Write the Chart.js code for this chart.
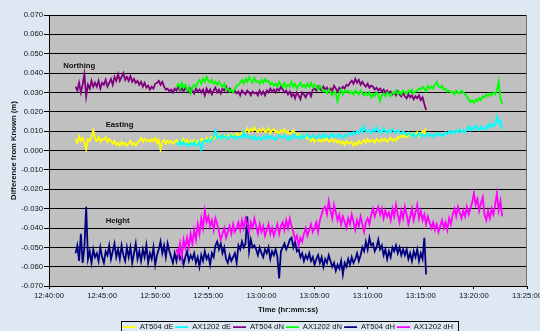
<!DOCTYPE html>
<html>
<head>
<meta charset="utf-8">
<script src="https://cdn.jsdelivr.net/npm/chart.js@4.4.1/dist/chart.umd.min.js"></script>
<style>
  html, body { margin: 0; padding: 0; overflow: hidden; background: #dee8f3; }
  canvas { display: block; }
</style>
</head>
<body>
<canvas id="c" width="540" height="341"></canvas>
<script>
// Time axis labels (every 5 minutes)
const timeTicks = ['12:40:00', '12:45:00', '12:50:00', '12:55:00', '13:00:00',
                   '13:05:00', '13:10:00', '13:15:00', '13:20:00', '13:25:00'];
const yTickValues = [-0.07, -0.06, -0.05, -0.04, -0.03, -0.02, -0.01, 0,
                     0.01, 0.02, 0.03, 0.04, 0.05, 0.06, 0.07];

// Logging schedule of the two receivers
const SAMPLE_SECONDS = 10;
const at504Start = '12:42:30';
const ax1202Start = '12:52:00';

const seriesNames = ['AT504 dE', 'AX1202 dE', 'AT504 dN', 'AX1202 dN', 'AT504 dH', 'AX1202 dH'];
const seriesColors = ['#ffff00', '#00ffff', '#800080', '#00ff00', '#000080', '#ff00ff'];

// Differences from the known coordinates, in millimetres (one row = one minute)
const at504_dE = [
  6, 4, 7.5, 5, 6.5, 4.5,   0.5, 6, 5, 7, 10.5, 6,    5, 7, 4.5, 6, 5.5, 7,
  4.5, 6, 5, 3.5, 5, 3,     4, 2.5, 4.5, 3, 4, 2.5,   3.5, 5, 3, 4, 2.5, 4,
  5, 6.5, 4.5, 6, 5, 5.5,   4.5, 6, 5, 6.5, 4, 5.5,   0.5, 4.5, 5.5, 3.5, 5, 4,
  5, 3.5, 4.5, 5.5, 3.5, 5, 4.5, 6, 4, 5.5, 3.5, 5,   4, 5.5, 3.5, 5, 4.5, 6,
  5.5, 4.5, 6.5, 5, 6, 7,   6, 7.5, 6.5, 8, 6, 7,     7.5, 6.5, 8, 7, 8.5, 7.5,
  8, 9, 7.5, 8.5, 9.5, 8.5, 10, 11.5, 9.5, 11, 10, 12, 10.5, 9.5, 11, 10, 11.5, 9.5,
  10, 11.5, 9, 10.5, 11, 9.5, 10, 9, 10.5, 9.5, 11, 9, 10, 8.5, 9.5, 10.5, 9, 8,
  8.5, 7, 8, 6.5, 7.5, 6,   6.5, 5, 6, 4.5, 6.5, 5,   5.5, 4.5, 6, 5, 6.5, 4.5,
  5, 6, 4.5, 5.5, 4, 5,     3.5, 4.5, 3, 5, 3.5, 4,   4.5, 2.5, 4, 3, 5, 3.5,
  4.5, 5.5, 4, 6, 4.5, 5,   5.5, 4, 6, 5, 4.5, 6,     5, 6, 4.5, 5.5, 6.5, 5,
  6, 5, 7, 6.5, 8, 7,       8, 7, 9, 7.5, 8.5, 9,     8, 9.5, 7.5, 8.5, 10, 9,
  11.5
];
const ax1202_dE = [
  4, 3, 5, 2.5, 4.5, 3,     3.5, 2, 4, 3, 4.5, 2.5,   3, 4.5, 0.5, 4, 5.5, 4.5,
  5.5, 4.5, 6, 7, 10.5, 6.5, 7.5, 6, 8, 6.5, 7.5, 6,  7, 8, 6.5, 7.5, 6, 7,
  7.5, 6.5, 9.5, 7, 8, 6.5, 7, 6, 7.5, 5.5, 7, 6.5,   5.5, 7, 6, 8, 6.5, 7.5,
  6, 7, 5.5, 6.5, 8, 7,     6.5, 8, 7, 5.5, 7.5, 6,   7, 8.5, 6.5, 7.5, 6, 8,
  6.5, 7.5, 8.5, 6.5, 7, 8, 7, 6, 8, 7.5, 6.5, 8.5,   7, 8, 6.5, 7.5, 8.5, 7,
  8, 7, 8.5, 7.5, 6.5, 8,   7.5, 8.5, 9, 8, 9.5, 8.5, 10, 9, 11, 9.5, 12.5, 10,
  9.5, 10.5, 9, 11, 10, 12, 9.5, 10.5, 9, 11.5, 10, 9, 10.5, 9.5, 11, 10, 9, 10.5,
  9.5, 8.5, 10, 9, 8, 9,    8.5, 7.5, 9, 7, 8, 9,     7.5, 8.5, 7, 8, 9, 7.5,
  8, 7, 8.5, 7.5, 9, 8,     8.5, 7.5, 9.5, 8.5, 10, 9, 10, 9, 10.5, 9.5, 11, 9.5,
  10.5, 9.5, 11, 12.5, 10.5, 12, 11, 13, 11.5, 10.5, 12.5, 11, 12, 11, 13.5, 12, 14, 12.5,
  13, 17.5, 14, 15.5, 11
];
const at504_dN = [
  33, 31, 35, 30, 34, 39.5,  28, 34, 32, 36, 33, 35,   33, 36, 32, 35, 34, 36.5,
  33, 35, 37, 34, 38, 36,    39.5, 36, 38, 40, 36.5, 38, 36, 38.5, 35.5, 37, 35, 36,
  34, 35.5, 33, 35, 32.5, 33.5, 31.5, 33, 32, 34.5, 35, 36, 34, 35.5, 33, 31.5, 32, 30.5,
  31.5, 30, 32, 31, 33, 31,  32, 30.5, 32.5, 31, 30, 32, 31, 29.5, 32, 30.5, 31.5, 30,
  31.5, 28.5, 32, 30, 31.5, 29, 31, 32.5, 30, 31.5, 29.5, 32, 31, 33, 30.5, 32, 31, 30,
  31, 29.5, 30.5, 28.5, 31, 30, 29, 31, 30, 28.5, 30.5, 29.5, 30, 28.5, 31, 29, 30.5, 28.5,
  31, 30, 32, 30.5, 31.5, 30, 32, 31, 33, 31.5, 30, 31, 29, 30.5, 28, 29.5, 27, 30,
  28.5, 26.5, 30, 29, 27.5, 29.5, 30, 28, 31.5, 32, 31, 33, 32, 31, 33, 31.5, 32.5, 30.5,
  32, 31, 33.5, 32, 30.5, 32.5, 31.5, 33, 32, 34, 33.5, 35, 36, 34.5, 37, 35, 36.5, 34,
  35.5, 34, 33, 34.5, 32.5, 33.5, 33, 31.5, 32.5, 31, 32, 30.5, 31.5, 30, 31, 29.5, 30.5, 29,
  30, 28.5, 30.5, 29, 28, 30, 28, 27, 29, 27.5, 28.5, 26.5, 28, 27, 28.5, 26, 27.5, 24,
  21
];
const ax1202_dN = [
  33, 34.5, 32, 35, 32.5, 34, 31, 33, 29.5, 32.5, 34, 33, 35, 36.5, 34.5, 37, 35.5, 38,
  36, 35, 36.5, 34.5, 35.5, 34, 35.5, 34, 33, 34.5, 31.5, 32, 30.5, 31.5, 30, 32, 33.5, 34,
  35, 36.5, 34.5, 37, 35.5, 38, 36, 35, 37.5, 35.5, 36, 34.5, 36.5, 35, 37, 35.5, 36, 34,
  35, 33.5, 34.5, 33, 35.5, 34, 33, 35, 32.5, 34, 33, 35.5, 33, 34.5, 32, 33.5, 35, 33,
  34, 32.5, 34.5, 33, 35, 32.5, 34, 33, 31.5, 33.5, 32, 30.5, 31, 29.5, 31.5, 30, 28.5, 30.5,
  29.5, 25.5, 30, 31.5, 29, 31, 30, 31, 29.5, 30.5, 29, 31, 30, 29, 31, 29.5, 28.5, 30,
  28.5, 30, 27.5, 29, 28, 30, 29, 25.5, 28.5, 29.5, 28, 30, 29, 28, 30, 29.5, 31, 29,
  30.5, 29, 31, 30, 29.5, 31, 30, 31.5, 29.5, 30.5, 31, 32, 31.5, 33, 32, 30.5, 33.5, 32,
  33, 32, 34, 35.5, 33, 32.5, 33.5, 31.5, 32, 30.5, 31, 30, 30.5, 29, 31, 30, 29.5, 31,
  30, 29, 28, 26.5, 25, 26, 24.5, 26.5, 25.5, 27, 26, 28, 27.5, 29, 28, 29.5, 28.5, 30,
  29, 31, 35.5, 27, 24
];
const at504_dH = [
  -53, -49, -57, -43, -58, -50,  -29, -56, -52, -58, -51, -55,  -53, -57, -50, -55, -58, -52,
  -54, -49, -56, -52, -48, -55,  -51, -56, -49, -54, -57, -50,  -55, -50, -58, -53, -48, -56,
  -52, -57, -51, -55, -49, -58,  -53, -56, -50, -59, -54, -51,  -47, -53, -49, -55, -48, -52,
  -55, -58, -53, -57, -52, -56,  -54, -59, -55, -52, -57, -54,  -56, -53, -58, -55, -60, -54,
  -57, -52, -56, -54, -59, -53,  -55, -49, -47, -51, -48, -53,  -50, -56, -58, -54, -57, -55,
  -53, -58, -49, -51, -47, -50,  -48, -34, -52, -46, -50, -49,  -51, -54, -50, -53, -55, -51,
  -53, -50, -56, -52, -54, -51,  -55, -66, -52, -50, -48, -51,  -49, -46, -45, -50, -47, -52,
  -51, -55, -53, -57, -54, -56,  -53, -57, -55, -59, -56, -54,  -58, -55, -60, -56, -58, -54,
  -57, -60, -58, -62, -59, -61,  -57, -64, -58, -60, -56, -59,  -55, -58, -56, -53, -57, -54,
  -50, -52, -47, -51, -45, -49,  -48, -52, -50, -46, -51, -49,  -54, -51, -56, -52, -55, -50,
  -52, -49, -53, -50, -54, -51,  -54, -51, -56, -53, -57, -52,  -55, -51, -57, -53, -56, -45,
  -64
];
const ax1202_dH = [
  -51, -54, -48, -55, -46, -50,  -45, -50, -43, -48, -41, -46,  -38, -43, -35, -40, -31, -37,
  -34, -39, -36, -41, -35, -38,  -42, -46, -43, -40, -45, -42,  -39, -43, -38, -42, -40, -37,
  -41, -36, -40, -35, -38, -42,  -37, -40, -35, -39, -43, -38,  -42, -39, -44, -41, -38, -43,
  -40, -44, -41, -38, -43, -39,  -37, -41, -36, -40, -35, -39,  -42, -46, -44, -49, -45, -47,
  -43, -40, -44, -41, -38, -42,  -40, -37, -42, -36, -33, -30,  -29, -33, -26, -31, -35, -28,
  -32, -36, -33, -38, -34, -37,  -40, -35, -38, -33, -37, -41,  -36, -39, -34, -38, -42, -37,
  -35, -38, -33, -30, -34, -31,  -29, -33, -30, -35, -31, -34,  -32, -36, -30, -34, -28, -33,
  -37, -31, -35, -29, -33, -38,  -34, -30, -36, -32, -28, -35,  -31, -36, -33, -38, -34, -37,
  -40, -37, -41, -38, -42, -39,  -36, -40, -37, -41, -35, -38,  -33, -30, -34, -29, -32, -35,
  -31, -34, -29, -33, -30, -27,  -22, -28, -25, -31, -27, -24,  -33, -36, -31, -35, -30, -33,
  -28, -22, -31, -26, -34
];

// Zone captions placed inside the plot
const zoneLabels = [
  { text: 'Northing', time: '12:41:20', value: 0.0436 },
  { text: 'Easting',  time: '12:45:20', value: 0.0135 },
  { text: 'Height',   time: '12:45:20', value: -0.0364 }
];

const FONT = "'Liberation Sans', Arial, sans-serif";
const INK = '#111111';

function toSeconds(s) {
  const [h, m, sec] = s.split(':').map(Number);
  return h * 3600 + m * 60 + sec;
}
const baseSeconds = toSeconds(timeTicks[0]);
function toMinutes(s) { return (toSeconds(s) - baseSeconds) / 60; }

function toPoints(valuesMm, start) {
  const t0 = toMinutes(start);
  return valuesMm.map((v, i) => ({ x: t0 + i * SAMPLE_SECONDS / 60, y: v / 1000 }));
}

const seriesData = [
  toPoints(at504_dE, at504Start), toPoints(ax1202_dE, ax1202Start),
  toPoints(at504_dN, at504Start), toPoints(ax1202_dN, ax1202Start),
  toPoints(at504_dH, at504Start), toPoints(ax1202_dH, ax1202Start)
];

const datasets = seriesNames.map((name, i) => ({
  label: name,
  data: seriesData[i],
  borderColor: seriesColors[i],
  backgroundColor: seriesColors[i],
  borderWidth: 1.8,
  pointRadius: 0,
  tension: 0,
  fill: false,
  order: seriesNames.length - i   // later series drawn on top
}));

const backdrop = {
  id: 'backdrop',
  beforeDraw(chart) {
    const { ctx, chartArea: a } = chart;
    ctx.save();
    ctx.fillStyle = '#dee8f3';
    ctx.fillRect(0, 0, chart.width, chart.height);
    ctx.fillStyle = '#c0c0c0';
    ctx.fillRect(a.left, a.top, a.right - a.left, a.bottom - a.top);
    ctx.restore();
  },
  afterDatasetsDraw(chart) {
    const { ctx, chartArea: a, scales } = chart;
    ctx.save();
    ctx.strokeStyle = '#6e6e6e';
    ctx.lineWidth = 1;
    ctx.beginPath();
    ctx.moveTo(Math.round(a.right) - 0.5, a.top);
    ctx.lineTo(Math.round(a.right) - 0.5, a.bottom);
    ctx.stroke();
    ctx.fillStyle = INK;
    ctx.font = 'bold 7.7px ' + FONT;
    ctx.textAlign = 'left';
    ctx.textBaseline = 'middle';
    zoneLabels.forEach(z => {
      ctx.fillText(z.text, scales.x.getPixelForValue(toMinutes(z.time)),
                   scales.y.getPixelForValue(z.value));
    });
    ctx.restore();
  },
  afterDraw(chart) {
    const boxes = chart.legend && chart.legend.legendHitBoxes;
    if (!boxes || !boxes.length) return;
    const { ctx } = chart;
    const left = Math.min(...boxes.map(b => b.left)) - 2;
    const right = Math.max(...boxes.map(b => b.left + b.width)) + 5;
    const top = boxes[0].top - 2;
    ctx.save();
    ctx.strokeStyle = '#000';
    ctx.lineWidth = 1;
    ctx.strokeRect(Math.round(left) + 0.5, Math.round(top) + 0.5, Math.round(right - left), 40);
    ctx.restore();
  }
};

new Chart(document.getElementById('c'), {
  type: 'line',
  data: { datasets },
  options: {
    responsive: false,
    animation: false,
    devicePixelRatio: 1,
    events: [],
    layout: { padding: { top: 15, right: 13, bottom: 0, left: 0 } },
    font: { family: FONT },
    scales: {
      x: {
        type: 'linear',
        min: toMinutes(timeTicks[0]),
        max: toMinutes(timeTicks[timeTicks.length - 1]),
        afterBuildTicks: s => { s.ticks = timeTicks.map(t => ({ value: toMinutes(t) })); },
        afterFit: s => { s.height = 35.15; s.paddingLeft = 0; s.paddingRight = 0; },
        grid: { drawOnChartArea: false, drawTicks: true, tickLength: 3, tickColor: '#000' },
        border: { display: true, color: '#000', width: 1 },
        ticks: {
          autoSkip: false, maxRotation: 0, padding: 2.4,
          color: INK, font: { family: FONT, size: 7.7 },
          callback: (v, i) => timeTicks[i]
        },
        title: {
          display: true, text: 'Time (hr:mm:ss)', color: INK,
          font: { family: FONT, size: 7.7, weight: 'bold' },
          padding: { top: 0, bottom: 7 }
        }
      },
      y: {
        type: 'linear',
        min: yTickValues[0],
        max: yTickValues[yTickValues.length - 1],
        afterBuildTicks: s => { s.ticks = yTickValues.map(v => ({ value: v })); },
        afterFit: s => { s.width = 49; },
        grid: { color: '#000', lineWidth: 1, drawTicks: true, tickLength: 5, tickColor: '#000' },
        border: { display: true, color: '#000', width: 1 },
        ticks: {
          padding: 1, color: INK, font: { family: FONT, size: 7.7 },
          callback: v => (Math.abs(v) < 1e-9 ? 0 : v).toFixed(3)
        },
        title: {
          display: true, text: 'Difference from Known (m)', color: INK,
          font: { family: FONT, size: 7.7, weight: 'bold' },
          padding: { top: 9.5, bottom: 0 }
        }
      }
    },
    plugins: {
      legend: {
        display: true,
        position: 'bottom',
        fullSize: false,
        labels: {
          usePointStyle: true,
          pointStyle: 'line',
          pointStyleWidth: 13,
          padding: 2,
          color: INK,
          font: { family: FONT, size: 7.7 },
          sort: (a, b) => a.datasetIndex - b.datasetIndex
        }
      },
      tooltip: { enabled: false }
    }
  },
  plugins: [backdrop]
});
</script>
</body>
</html>
